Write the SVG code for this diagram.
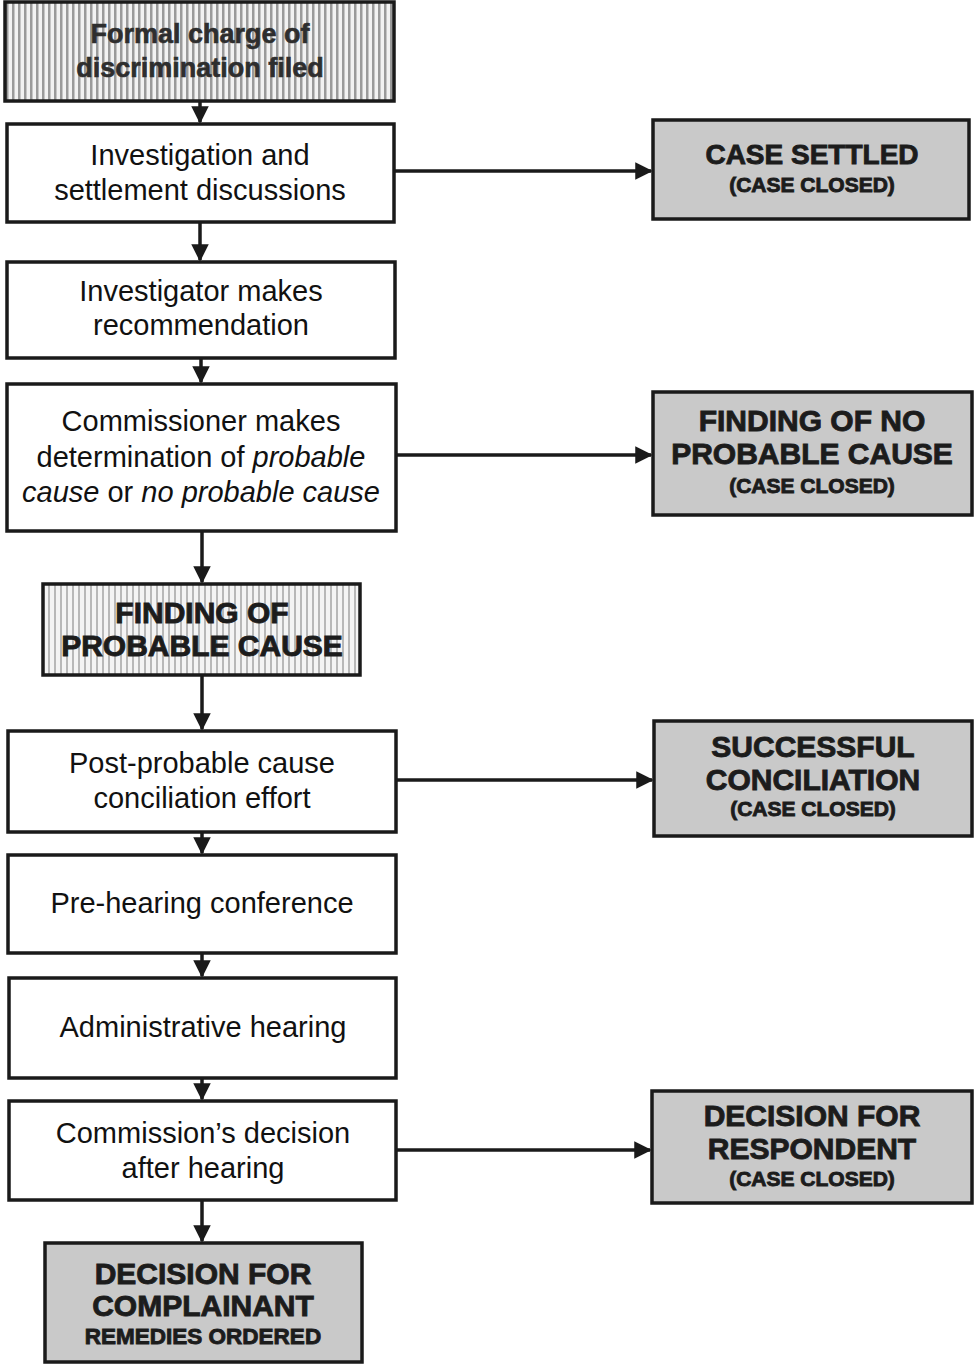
<svg xmlns="http://www.w3.org/2000/svg" width="975" height="1368" viewBox="0 0 975 1368">
<style>
.box{fill:#fff;stroke:#1a1a1a;stroke-width:3.5}
.gray{fill:#c9c9c9;stroke:#1a1a1a;stroke-width:3.5}
.hatchA{fill:url(#stripesDark);stroke:#1a1a1a;stroke-width:3.5}
.hatchB{fill:url(#stripesLight);stroke:#1a1a1a;stroke-width:3.5}
.t{font-family:"Liberation Sans",Arial,sans-serif;font-size:29px;fill:#111;text-anchor:middle}
.b{font-family:"Liberation Sans",Arial,sans-serif;font-weight:bold;fill:#1c1c1c;text-anchor:middle;stroke:#1c1c1c;stroke-width:0.9}
.f{font-size:27px;fill:#2e2e2e;stroke:#2e2e2e;stroke-width:0.6}
.h{font-size:30px}
.s{font-size:21px}
.conn line{stroke:#1a1a1a;stroke-width:3.5}
</style>
<defs>
<pattern id="stripesDark" width="6" height="10" patternUnits="userSpaceOnUse">
<rect width="6" height="10" fill="#f2f2f2"/>
<rect x="0" width="2.5" height="10" fill="#9a9a9a"/>
</pattern>
<pattern id="stripesLight" width="6" height="10" patternUnits="userSpaceOnUse">
<rect width="6" height="10" fill="#f4f4f4"/>
<rect x="0" width="2" height="10" fill="#b8b8b8"/>
</pattern>
<marker id="arr" markerWidth="5" markerHeight="5" refX="4.5" refY="2.5" orient="auto" markerUnits="strokeWidth">
<path d="M0,0 L5,2.5 L0,5 Z" fill="#1a1a1a"/>
</marker>
</defs>

<g class="conn">
<line x1="200" y1="101" x2="200" y2="122" marker-end="url(#arr)"/>
<line x1="200" y1="222" x2="200" y2="260" marker-end="url(#arr)"/>
<line x1="201" y1="358" x2="201" y2="382" marker-end="url(#arr)"/>
<line x1="202" y1="531" x2="202" y2="582" marker-end="url(#arr)"/>
<line x1="202" y1="675" x2="202" y2="729" marker-end="url(#arr)"/>
<line x1="202" y1="832" x2="202" y2="853" marker-end="url(#arr)"/>
<line x1="202" y1="953" x2="202" y2="976" marker-end="url(#arr)"/>
<line x1="202" y1="1078" x2="202" y2="1099" marker-end="url(#arr)"/>
<line x1="202" y1="1200" x2="202" y2="1241" marker-end="url(#arr)"/>
<line x1="394" y1="171" x2="651" y2="171" marker-end="url(#arr)"/>
<line x1="396" y1="455" x2="651" y2="455" marker-end="url(#arr)"/>
<line x1="396" y1="780" x2="652" y2="780" marker-end="url(#arr)"/>
<line x1="396" y1="1150" x2="650" y2="1150" marker-end="url(#arr)"/>
</g>

<g id="n1">
<rect class="hatchA" x="5" y="2" width="389" height="99"/>
<text class="b f" x="200" y="43">Formal charge of</text>
<text class="b f" x="200" y="77">discrimination filed</text>
</g>
<g id="n2">
<rect class="box" x="7" y="124" width="387" height="98"/>
<text class="t" x="200" y="165">Investigation and</text>
<text class="t" x="200" y="200">settlement discussions</text>
</g>
<g id="n3">
<rect class="box" x="7" y="262" width="388" height="96"/>
<text class="t" x="201" y="301">Investigator makes</text>
<text class="t" x="201" y="335">recommendation</text>
</g>
<g id="n4">
<rect class="box" x="7" y="384" width="389" height="147"/>
<text class="t" x="201" y="431">Commissioner makes</text>
<text class="t" x="201" y="467">determination of <tspan font-style="italic">probable</tspan></text>
<text class="t" x="201" y="502"><tspan font-style="italic">cause</tspan> or <tspan font-style="italic">no probable cause</tspan></text>
</g>
<g id="n5">
<rect class="hatchB" x="43" y="584" width="317" height="91"/>
<text class="b h" x="202" y="623">FINDING OF</text>
<text class="b h" x="202" y="656">PROBABLE CAUSE</text>
</g>
<g id="n6">
<rect class="box" x="8" y="731" width="388" height="101"/>
<text class="t" x="202" y="773">Post-probable cause</text>
<text class="t" x="202" y="808">conciliation effort</text>
</g>
<g id="n7">
<rect class="box" x="8" y="855" width="388" height="98"/>
<text class="t" x="202" y="913">Pre-hearing conference</text>
</g>
<g id="n8">
<rect class="box" x="9" y="978" width="387" height="100"/>
<text class="t" x="203" y="1037">Administrative hearing</text>
</g>
<g id="n9">
<rect class="box" x="9" y="1101" width="387" height="99"/>
<text class="t" x="203" y="1143">Commission’s decision</text>
<text class="t" x="203" y="1178">after hearing</text>
</g>
<g id="n10">
<rect class="gray" x="45" y="1243" width="317" height="119"/>
<text class="b h" x="203" y="1284">DECISION FOR</text>
<text class="b h" x="203" y="1316">COMPLAINANT</text>
<text class="b" style="font-size:22.5px" x="203" y="1344">REMEDIES ORDERED</text>
</g>

<g id="r1">
<rect class="gray" x="653" y="120" width="316" height="99"/>
<text class="b" style="font-size:28px" x="812" y="164">CASE SETTLED</text>
<text class="b s" x="812" y="192">(CASE CLOSED)</text>
</g>
<g id="r2">
<rect class="gray" x="653" y="392" width="319" height="123"/>
<text class="b h" x="812" y="431">FINDING OF NO</text>
<text class="b h" x="812" y="464">PROBABLE CAUSE</text>
<text class="b s" x="812" y="493">(CASE CLOSED)</text>
</g>
<g id="r3">
<rect class="gray" x="654" y="721" width="318" height="115"/>
<text class="b h" x="813" y="757">SUCCESSFUL</text>
<text class="b h" x="813" y="790">CONCILIATION</text>
<text class="b s" x="813" y="816">(CASE CLOSED)</text>
</g>
<g id="r4">
<rect class="gray" x="652" y="1091" width="320" height="112"/>
<text class="b h" x="812" y="1126">DECISION FOR</text>
<text class="b h" x="812" y="1159">RESPONDENT</text>
<text class="b s" x="812" y="1186">(CASE CLOSED)</text>
</g>
</svg>
